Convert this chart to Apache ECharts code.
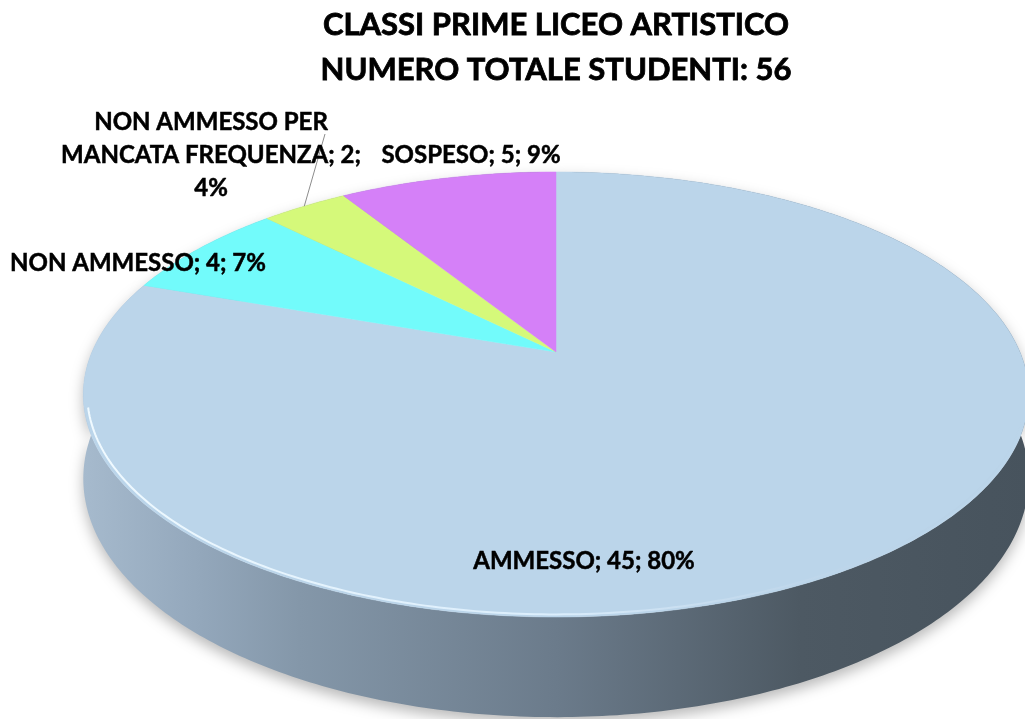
<!DOCTYPE html>
<html><head><meta charset="utf-8">
<script src="https://cdn.jsdelivr.net/npm/echarts@6/dist/echarts.min.js"></script>
<style>html,body{margin:0;padding:0;background:#fff}#c{width:1025px;height:719px}</style>
</head><body><div id="c"></div>
<script>
// ---- data ----
const categories = ['AMMESSO', 'NON AMMESSO', 'NON AMMESSO PER MANCATA FREQUENZA', 'SOSPESO'];
const values = [45, 4, 2, 5];
const titleLines = ['CLASSI PRIME LICEO ARTISTICO', 'NUMERO TOTALE STUDENTI: 56'];

// ---- layout / style ----
const CX = 556, CY = 352, RX = 464, RY = 214.4, K = 0.191, DEPTH = 81;
const topColors = ['#BBD5EA', '#72FBFB', '#D5F97A', '#D580F8'];
const FONT = 'Lato, "Open Sans", sans-serif';
const LABEL_SIZE = 24;
const labelLayout = [
  { x: 584, y: 561, lines: null },
  { x: 138, y: 263, lines: null },
  { x: 211, y: 155, lines: [3, 3, 1], leaderFrom: [325, 134] },
  { x: 471, y: 155, lines: null }
];

const total = values.reduce((a, b) => a + b, 0);
const cum = [];
{ let acc = 0; values.forEach(v => { cum.push(acc); acc += v; }); }

function proj(theta, r, drop) {
  const u = r * Math.sin(theta), v = -r * Math.cos(theta);
  const w = 1 - K * v;
  return [CX + RX * u / w, CY + (RY * v + drop) / w];
}
function angles(i, val) {
  return [cum[i] / total * 2 * Math.PI, (cum[i] + val) / total * 2 * Math.PI];
}
function arcPts(a0, a1, drop, r) {
  const n = Math.max(6, Math.ceil((a1 - a0) / (Math.PI / 240)));
  const p = [];
  for (let j = 0; j <= n; j++) p.push(proj(a0 + (a1 - a0) * j / n, r == null ? 1 : r, drop));
  return p;
}
function labelText(i) {
  const pct = Math.round(values[i] / total * 100);
  const s = categories[i] + '; ' + values[i] + '; ' + pct + '%';
  const L = labelLayout[i].lines;
  if (!L) return s;
  const words = s.split(' ');
  const out = []; let k = 0;
  L.forEach(c => { out.push(words.slice(k, k + c).join(' ')); k += c; });
  return out.join('\n');
}

const sideFill = new echarts.graphic.LinearGradient(83, 0, 1029, 0, [
  { offset: 0, color: '#a6bacd' },
  { offset: 0.124, color: '#93a7bb' },
  { offset: 0.229, color: '#8497a9' },
  { offset: 0.5, color: '#6b7b8b' },
  { offset: 0.758, color: '#4d5963' },
  { offset: 1, color: '#47535d' }
], true);
const rimStroke = new echarts.graphic.LinearGradient(83, 0, 1029, 0, [
  { offset: 0, color: 'rgba(240,250,255,1)' },
  { offset: 0.5, color: 'rgba(225,242,255,0.85)' },
  { offset: 0.85, color: 'rgba(190,210,230,0.2)' },
  { offset: 1, color: 'rgba(160,180,200,0)' }
], true);

const seriesData = values.map((v, i) => ({ name: categories[i], value: v }));

const chart = echarts.init(document.getElementById('c'), null, { renderer: 'canvas' });
chart.setOption({
  animation: false,
  title: {
    text: titleLines.join('\n'),
    left: 556, top: 2, padding: 0, textAlign: 'center',
    textStyle: {
      fontFamily: FONT, fontWeight: 'bold', fontSize: 31, lineHeight: 45, color: '#000',
      textBorderColor: '#000', textBorderWidth: 0.8
    }
  },
  series: [
    {
      type: 'custom', coordinateSystem: 'none', z: 1, silent: true,
      data: seriesData,
      renderItem: function (params, api) {
        const i = params.dataIndex;
        const [a0, a1] = angles(i, api.value(0));
        const top = arcPts(a0, a1, 0), bot = arcPts(a0, a1, DEPTH).reverse();
        return {
          type: 'polygon',
          shape: { points: top.concat(bot) },
          style: { fill: sideFill, shadowBlur: 14, shadowOffsetY: 6, shadowColor: 'rgba(0,0,0,0.28)' }
        };
      }
    },
    {
      type: 'custom', coordinateSystem: 'none', z: 2, silent: true,
      data: seriesData,
      renderItem: function (params, api) {
        const i = params.dataIndex;
        const [a0, a1] = angles(i, api.value(0));
        const pts = [proj(0, 0, 0)].concat(arcPts(a0, a1, 0));
        const children = [{
          type: 'polygon', z2: 1,
          shape: { points: pts },
          style: { fill: topColors[i], stroke: topColors[i], lineWidth: 0.5 }
        }];
        // front rim highlight (bevel)
        const f0 = Math.max(a0, Math.PI * 0.6), f1 = Math.min(a1, Math.PI * 1.42);
        if (f1 > f0) {
          children.push({
            type: 'polyline', z2: 2,
            shape: { points: arcPts(f0, f1, 0, 0.992) },
            style: { stroke: rimStroke, lineWidth: 2, fill: null }
          });
        }
        const L = labelLayout[i];
        if (L.leaderFrom) {
          const mid = proj((a0 + a1) / 2, 1, 0);
          children.push({
            type: 'line', z2: 3,
            shape: { x1: L.leaderFrom[0], y1: L.leaderFrom[1], x2: mid[0], y2: mid[1] },
            style: { stroke: '#8c8c8c', lineWidth: 1 }
          });
        }
        children.push({
          type: 'text', z2: 5,
          x: L.x, y: L.y,
          style: {
            text: labelText(i), fill: '#000', fontFamily: FONT, fontWeight: 'bold',
            fontSize: LABEL_SIZE, lineHeight: 33, align: 'center', verticalAlign: 'middle',
            stroke: '#000', lineWidth: 0.5
          }
        });
        return { type: 'group', children: children };
      }
    }
  ]
});
</script>
</body></html>
